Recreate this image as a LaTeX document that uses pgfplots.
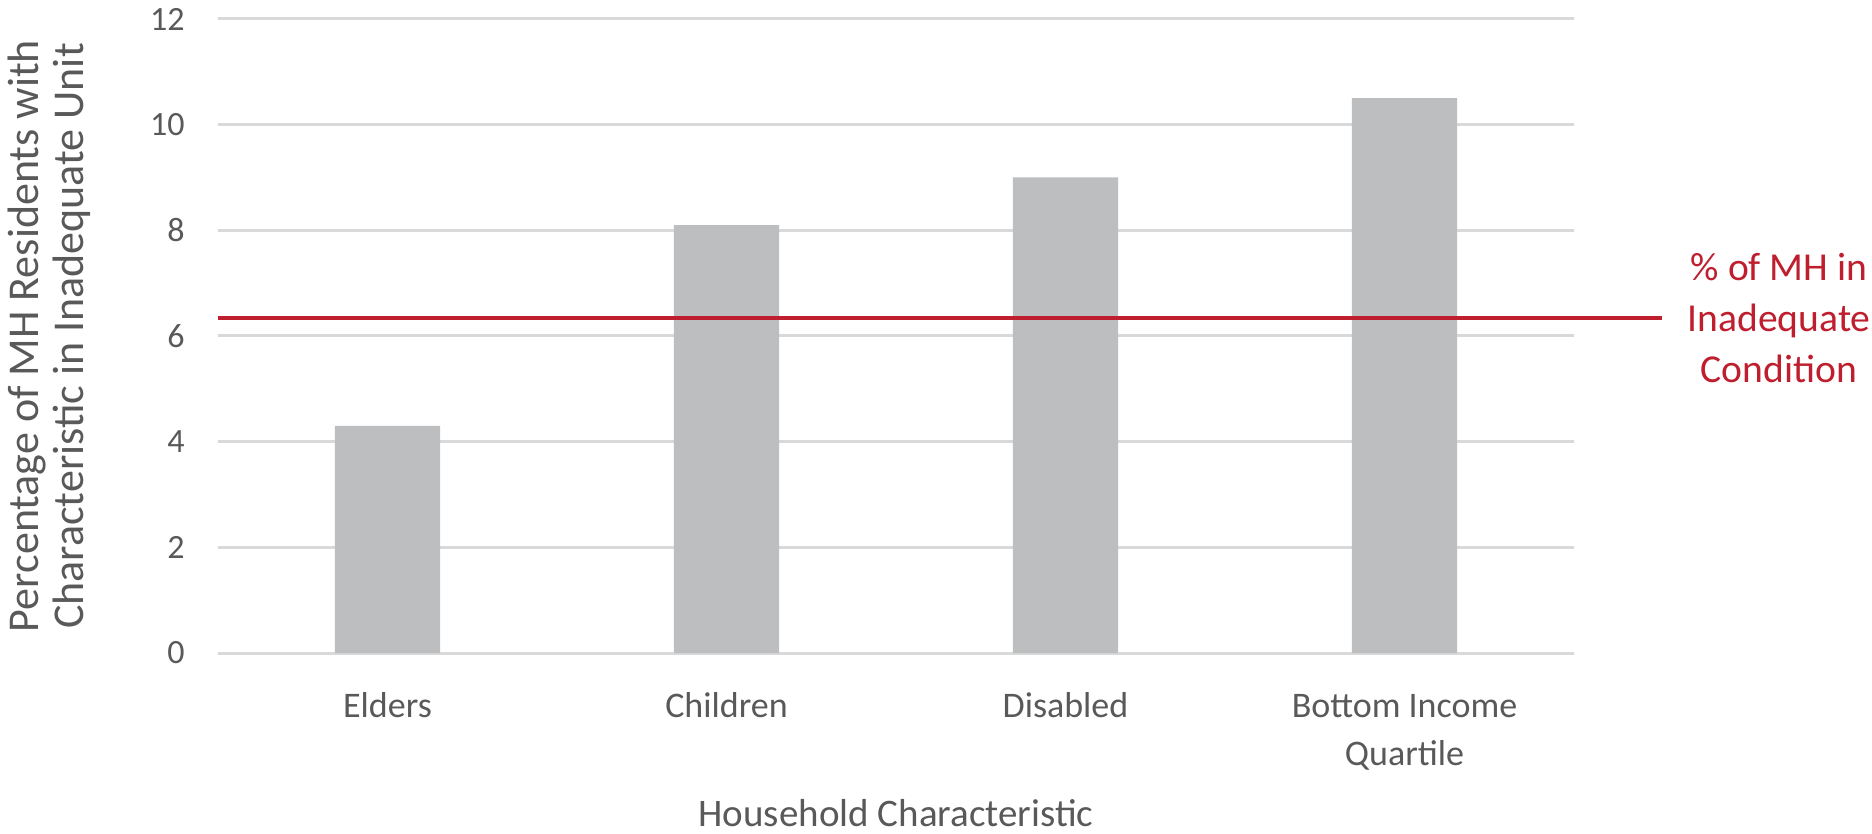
\documentclass[border=0pt]{standalone}
\usepackage{pgfplots}
\pgfplotsset{compat=1.18}
\usepackage{fontspec}
\setmainfont{Carlito}
\definecolor{barg}{HTML}{BDBEC0}
\definecolor{redl}{HTML}{BE1E2D}
\definecolor{txt}{HTML}{595959}
\definecolor{gridc}{HTML}{D9D9D9}
\begin{document}
\begin{tikzpicture}
\path[use as bounding box] (0,0) rectangle (936bp,417bp);
\begin{axis}[
 at={(109bp,90.5bp)}, anchor=south west,
 width=678bp, height=317bp, scale only axis,
 xmin=-0.5, xmax=3.5, ymin=0, ymax=12,
 ytick={0,2,...,12},
 xtick={0,1,2,3},
 xticklabels={\strut Elders, \strut Children, \strut Disabled, {\strut Bottom Income\\Quartile}},
 axis line style={draw=none},
 major tick length=0,
 ymajorgrids, grid style={gridc, line width=1.5bp},
 clip=false,
 /pgf/number format/assume math mode=true,
 yticklabel style={font=\fontsize{17bp}{20bp}\selectfont, text=txt, anchor=east, inner sep=0pt, xshift=-16.5bp},
 xticklabel style={font=\fontsize{18bp}{24bp}\selectfont, text=txt, align=center, anchor=north, inner sep=0pt, yshift=-15.4bp},
 xlabel={Household Characteristic},
 xlabel style={font=\fontsize{19.5bp}{23bp}\selectfont, text=txt, at={(axis description cs:0.5,0)}, anchor=base, inner sep=0pt, text depth=0pt, yshift=-86.5bp},
 ylabel={Percentage of MH Residents with\\Characteristic in Inadequate Unit},
 ylabel style={font=\fontsize{22bp}{22.5bp}\selectfont, text=txt, align=center, at={(axis description cs:-0.1246,0.5)}, anchor=center, inner sep=0pt},
]
\addplot[ybar, bar width=0.31, fill=barg, draw=none] coordinates {(0,4.3) (1,8.1) (2,9.0) (3,10.5)};
\addplot[redl, line width=2.4bp, forget plot] coordinates {(-0.5,6.34) (3.76,6.34)};
\node[text=redl, align=center, font=\fontsize{19.8bp}{25.5bp}\selectfont] at (axis cs:4.105,6.34) {\% of MH in\\Inadequate\\Condition};
\end{axis}
\end{tikzpicture}
\end{document}
